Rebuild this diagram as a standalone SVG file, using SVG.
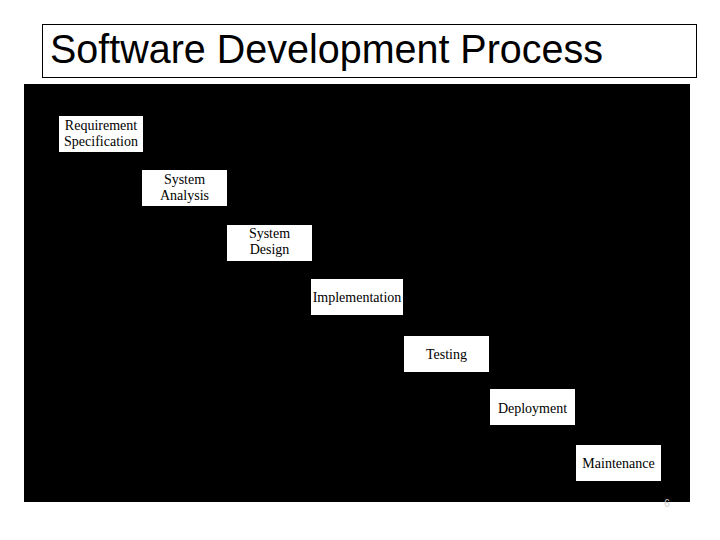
<svg xmlns="http://www.w3.org/2000/svg" width="720" height="540" viewBox="0 0 720 540">
<style>
.step rect{fill:#fff;stroke:none}
.step text{font-family:"Liberation Sans",Arial,sans-serif;fill:#000}
.step text{font-family:"Liberation Serif","Times New Roman",serif;font-size:14px;text-anchor:middle}
.title{font-family:"Liberation Sans",Arial,sans-serif;font-size:41px;fill:#000}
</style>
<rect width="720" height="540" fill="#fff"/>
<g id="title">
<rect x="42.5" y="24.5" width="654" height="53" fill="#fff" stroke="#000" stroke-width="1"/>
<text class="title" x="50" y="63" textLength="553" lengthAdjust="spacingAndGlyphs">Software Development Process</text>
</g>
<rect id="panel" x="24" y="84" width="666" height="418" fill="#000"/>
<g id="connectors"></g>
<g id="n1" class="step"><rect x="59" y="116" width="84" height="36"/><text x="101" y="130">Requirement</text><text x="101" y="146">Specification</text></g>
<g id="n2" class="step"><rect x="142" y="170" width="85" height="36"/><text x="184.5" y="184">System</text><text x="184.5" y="200">Analysis</text></g>
<g id="n3" class="step"><rect x="227" y="225" width="85" height="36"/><text x="269.5" y="238">System</text><text x="269.5" y="254">Design</text></g>
<g id="n4" class="step"><rect x="311" y="279" width="92" height="36"/><text x="357" y="302">Implementation</text></g>
<g id="n5" class="step"><rect x="404" y="336" width="85" height="36"/><text x="446.5" y="359">Testing</text></g>
<g id="n6" class="step"><rect x="490" y="389" width="85" height="36"/><text x="532.5" y="413">Deployment</text></g>
<g id="n7" class="step"><rect x="576" y="445" width="85" height="36"/><text x="618.5" y="468">Maintenance</text></g>
<text x="667" y="507" font-family="Liberation Sans,Arial,sans-serif" font-size="10" fill="#cccccc" text-anchor="middle">6</text>
</svg>
